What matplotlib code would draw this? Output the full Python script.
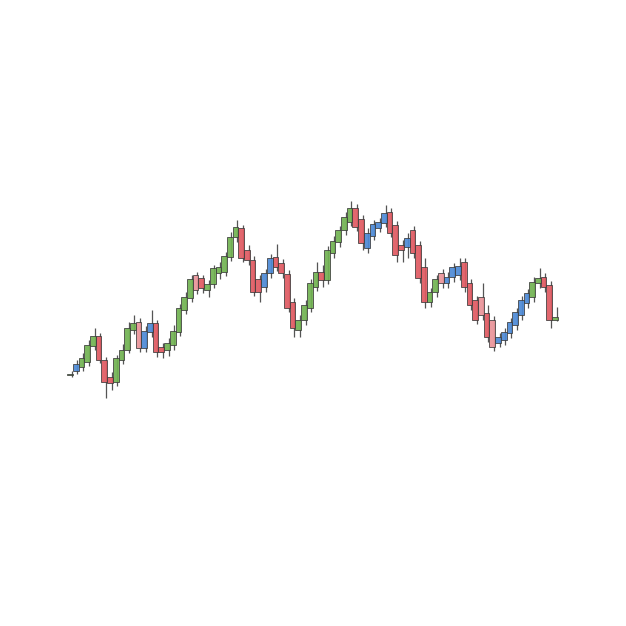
import numpy as np
import matplotlib
matplotlib.use('Agg')
from matplotlib import pyplot as plt

# Dados das velas
kinds = ['g', 'b', 'g', 'g', 'g', 'r', 'r', 'r', 'g', 'g',
         'g', 'g', 'p', 'b', 'b', 'r', 'r', 'g', 'g', 'g',
         'g', 'g', 'p', 'r', 'g', 'g', 'g', 'g', 'g', 'g',
         'r', 'r', 'r', 'r', 'b', 'b', 'r', 'r', 'r', 'r',
         'g', 'g', 'g', 'g', 'r', 'g', 'g', 'g', 'g', 'g',
         'r', 'r', 'b', 'b', 'b', 'b', 'r', 'r', 'r', 'b',
         'r', 'r', 'r', 'g', 'g', 'p', 'b', 'b', 'b', 'r',
         'r', 'r', 'p', 'r', 'p', 'b', 'b', 'b', 'b', 'b',
         'b', 'g', 'g', 'r', 'r', 'g']

opens = [25, 29, 33, 38, 54, 64, 40, 23, 18, 40,
         50, 70, 78, 52, 68, 77, 53, 50, 55, 68,
         90, 102, 125, 122, 110, 116, 127, 128, 143, 163,
         172, 150, 140, 121, 113, 127, 143, 137, 126, 98,
         70, 80, 92, 113, 128, 120, 147, 158, 170, 178,
         192, 181, 152, 164, 172, 177, 188, 175, 155, 153,
         170, 155, 133, 98, 108, 127, 117, 123, 125, 138,
         117, 100, 103, 87, 80, 57, 60, 67, 75, 85,
         97, 103, 117, 123, 115, 80]

closes = [26, 36, 42, 55, 64, 40, 18, 17, 42, 50,
          72, 77, 52, 69, 77, 48, 48, 57, 69, 92,
          103, 121, 110, 112, 116, 132, 133, 144, 163, 173,
          142, 140, 108, 108, 127, 142, 133, 127, 92, 72,
          80, 95, 117, 128, 120, 150, 159, 170, 183, 192,
          173, 157, 167, 176, 178, 187, 167, 145, 150, 162,
          147, 122, 98, 108, 121, 117, 123, 133, 134, 113,
          95, 80, 85, 63, 53, 63, 68, 78, 88, 100,
          107, 118, 122, 113, 80, 83]

highs = [29, 40, 47, 60, 72, 67, 43, 28, 45, 56,
         78, 85, 82, 74, 90, 80, 57, 62, 75, 96,
         108, 125, 128, 125, 120, 135, 138, 148, 168, 180,
         175, 155, 144, 125, 131, 146, 156, 141, 130, 102,
         85, 100, 121, 138, 135, 154, 164, 174, 188, 199,
         196, 185, 172, 180, 182, 195, 192, 179, 160, 167,
         174, 159, 142, 112, 125, 131, 128, 137, 142, 142,
         121, 104, 117, 95, 84, 67, 72, 82, 92, 104,
         111, 123, 132, 127, 119, 93]

lows = [23, 26, 29, 34, 50, 37, 2, 10, 14, 36,
        47, 66, 48, 48, 63, 43, 42, 44, 50, 64,
        86, 98, 106, 107, 103, 112, 121, 124, 139, 158,
        138, 135, 104, 98, 108, 122, 129, 122, 88, 63,
        63, 75, 88, 109, 113, 116, 142, 153, 165, 174,
        169, 150, 147, 160, 168, 173, 163, 138, 138, 142,
        142, 117, 92, 93, 103, 112, 112, 118, 120, 108,
        90, 76, 80, 58, 49, 53, 55, 62, 70, 80,
        92, 98, 112, 108, 72, 79]

cores = {'g': '#72b352', 'r': '#e05a62', 'p': '#ea9499', 'b': '#4d8ad6'}

o = np.array(opens, dtype=float)
c = np.array(closes, dtype=float)
x = np.arange(len(o))
base = np.minimum(o, c)
alt = np.maximum(np.abs(c - o), 1.0)
cols = [cores[k] for k in kinds]

fig = plt.figure(figsize=(6.26, 6.26), dpi=100)
ax = fig.add_axes([0, 0, 1, 1])

ax.vlines(x + 0.3, lows, highs, color='#555555', linewidth=0.9, zorder=1)
ax.bar(x, alt, bottom=base, width=1.0, color=cols, edgecolor='#3a3a3a',
       linewidth=0.6, alpha=0.92, zorder=2)

ax.set_xlim(-12.27, 97.44)
ax.set_ylim(-226, 400)
ax.axis('off')

fig.savefig('out.png', dpi=100)
